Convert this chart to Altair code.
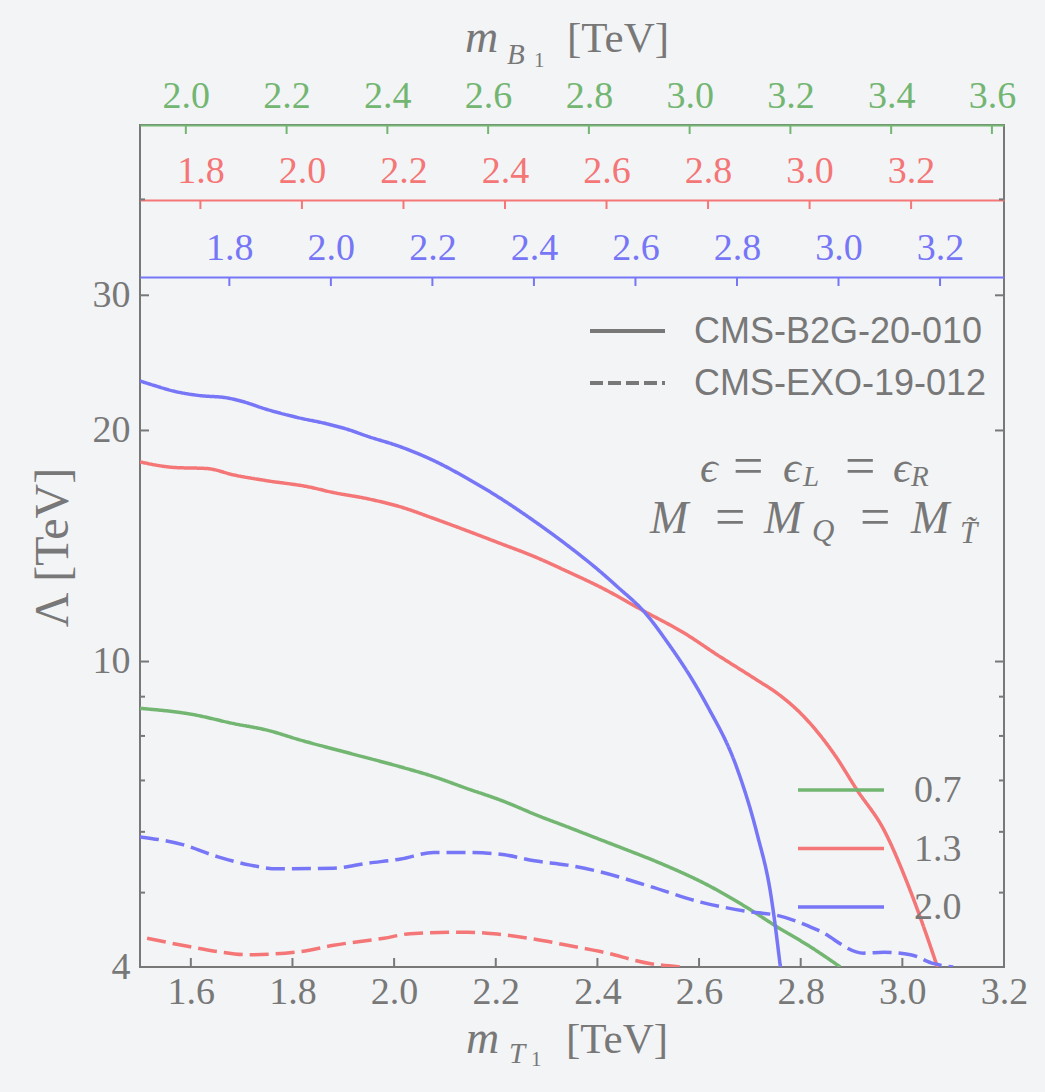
import altair as alt
import pandas as pd

# ---------------- data ----------------
EPS = ["0.7", "1.3", "2.0"]
ANALYSES = ["CMS-B2G-20-010", "CMS-EXO-19-012"]

# CMS-B2G-20-010 (solid)
m_b2g_07 = [1.50, 1.60, 1.685, 1.75, 1.816, 1.914, 2.013, 2.078, 2.144, 2.209, 2.288, 2.341,
            2.406, 2.459, 2.524, 2.623, 2.701, 2.754, 2.819, 2.878]
v_b2g_07 = [8.69, 8.54, 8.30, 8.14, 7.90, 7.59, 7.29, 7.08, 6.83, 6.60, 6.28, 6.09,
            5.86, 5.68, 5.46, 5.09, 4.75, 4.51, 4.25, 4.00]

m_b2g_13 = [1.50, 1.567, 1.632, 1.685, 1.75, 1.829, 1.881, 1.947, 2.013, 2.078, 2.144, 2.209,
            2.276, 2.341, 2.406, 2.495, 2.57, 2.636, 2.714, 2.754, 2.80, 2.865, 2.911, 2.964,
            3.010, 3.042, 3.069]
v_b2g_13 = [18.2, 17.9, 17.84, 17.5, 17.2, 16.9, 16.6, 16.3, 15.9, 15.36, 14.8, 14.25,
            13.7, 13.1, 12.5, 11.6, 10.9, 10.2, 9.46, 9.09, 8.56, 7.59, 6.80, 6.03,
            5.14, 4.51, 4.00]

m_b2g_20 = [1.50, 1.527, 1.567, 1.619, 1.668, 1.698, 1.75, 1.809, 1.868, 1.908, 1.947, 2.013,
            2.078, 2.144, 2.209, 2.275, 2.341, 2.406, 2.439, 2.495, 2.537, 2.59, 2.616, 2.675,
            2.714, 2.741, 2.760]
v_b2g_20 = [23.2, 22.9, 22.5, 22.2, 22.07, 21.85, 21.3, 20.8, 20.4, 20.07, 19.66, 19.04,
            18.27, 17.32, 16.32, 15.25, 14.17, 13.09, 12.52, 11.55, 10.61, 9.39, 8.76, 7.25,
            5.97, 4.98, 4.00]

# CMS-EXO-19-012 (dashed)
m_exo_13 = [1.514, 1.599, 1.652, 1.711, 1.816, 1.881, 1.98, 2.032, 2.144, 2.196, 2.275, 2.341,
            2.406, 2.505, 2.563]
v_exo_13 = [4.36, 4.25, 4.19, 4.15, 4.19, 4.27, 4.36, 4.42, 4.44, 4.42, 4.35, 4.27,
            4.19, 4.04, 4.00]

m_exo_20 = [1.50, 1.586, 1.652, 1.717, 1.77, 1.881, 1.947, 2.013, 2.078, 2.144, 2.209, 2.276,
            2.341, 2.406, 2.505, 2.603, 2.701, 2.754, 2.833, 2.924, 2.964, 3.016, 3.062, 3.10]
v_exo_20 = [5.91, 5.77, 5.57, 5.43, 5.37, 5.38, 5.46, 5.53, 5.64, 5.64, 5.61, 5.50,
            5.43, 5.32, 5.09, 4.86, 4.72, 4.67, 4.47, 4.17, 4.18, 4.15, 4.04, 4.00]

# axis ticks
mT_ticks = [1.6, 1.8, 2.0, 2.2, 2.4, 2.6, 2.8, 3.0, 3.2]
mT_domain = [1.5, 3.2]
lam_labels = [4, 10, 20, 30]
lam_major = [10, 20, 30]
lam_minor = [5, 6, 7, 8, 9, 40]
lam_domain = [4, 50]
green_ticks = [2.0, 2.2, 2.4, 2.6, 2.8, 3.0, 3.2, 3.4, 3.6]
green_domain = [1.909, 3.624]
red_ticks = [1.8, 2.0, 2.2, 2.4, 2.6, 2.8, 3.0, 3.2]
red_domain = [1.681, 3.383]
blue_ticks = [1.8, 2.0, 2.2, 2.4, 2.6, 2.8, 3.0, 3.2]
blue_domain = [1.624, 3.326]

# ---------------- build table ----------------
rows = []
for m, v, e, a in [(m_b2g_07, v_b2g_07, "0.7", ANALYSES[0]),
                   (m_b2g_13, v_b2g_13, "1.3", ANALYSES[0]),
                   (m_b2g_20, v_b2g_20, "2.0", ANALYSES[0]),
                   (m_exo_13, v_exo_13, "1.3", ANALYSES[1]),
                   (m_exo_20, v_exo_20, "2.0", ANALYSES[1])]:
    for mi, vi in zip(m, v):
        rows.append({"m": mi, "v": vi, "eps": e, "analysis": a})
df = pd.DataFrame(rows)

# ---------------- style ----------------
W, H = 864, 842
PADL, PADT = 140, 125
GRAY = "#787878"
BG = "#f3f4f6"
GREEN, RED, BLUE = "#72b672", "#f47676", "#7676f6"
COLORS = [GREEN, RED, BLUE]
SERIF = "Liberation Serif"
SANS = "Liberation Sans"
TICKFS = 38

X_SCALE = alt.Scale(domain=mT_domain, nice=False, zero=False)
Y_SCALE = alt.Scale(type="log", domain=lam_domain, nice=False)
Y_AXIS = alt.Axis(values=lam_labels, format="d", ticks=False, tickSize=0, domain=False, grid=False,
                  labelFont=SERIF, labelFontSize=TICKFS, labelColor=GRAY, labelPadding=10,
                  labelFlush=False, labelOverlap=False,
                  title="Λ [TeV]", titleFont=SERIF, titleFontSize=48, titleFontWeight="normal",
                  titleColor=GRAY, titleAngle=270, titleX=-87, titleY=422,
                  titleAlign="center", titleBaseline="middle")
X_AXIS = alt.Axis(values=mT_ticks, format=".1f", ticks=False, tickSize=0, domain=False, grid=False,
                  labelFont=SERIF, labelFontSize=TICKFS, labelColor=GRAY, labelPadding=6,
                  labelFlush=False, labelOverlap=False, labelBound=False, title=None)

lines = alt.Chart(df).mark_line(strokeWidth=3.5, clip=True, interpolate="monotone").encode(
    x=alt.X("m:Q", scale=X_SCALE, axis=X_AXIS),
    y=alt.Y("v:Q", scale=Y_SCALE, axis=Y_AXIS),
    color=alt.Color("eps:N", scale=alt.Scale(domain=EPS, range=COLORS), legend=None),
    strokeDash=alt.StrokeDash("analysis:N",
                              scale=alt.Scale(domain=ANALYSES, range=[[1, 0], [19, 7]]),
                              legend=None),
)

layers = [lines]

# inward ticks of the frame
layers.append(alt.Chart(pd.DataFrame({"m": mT_ticks})).mark_rule(color=GRAY, strokeWidth=2).encode(
    x=alt.X("m:Q", scale=X_SCALE, axis=None), y=alt.value(H - 9), y2=alt.value(H)))
for vals, ln in [(lam_major, 9), (lam_minor, 5)]:
    d = pd.DataFrame({"v": vals})
    layers.append(alt.Chart(d).mark_rule(color=GRAY, strokeWidth=2).encode(
        y=alt.Y("v:Q", scale=Y_SCALE, axis=Y_AXIS), x=alt.value(0), x2=alt.value(ln)))
    layers.append(alt.Chart(d).mark_rule(color=GRAY, strokeWidth=2).encode(
        y=alt.Y("v:Q", scale=Y_SCALE, axis=Y_AXIS), x=alt.value(W - ln), x2=alt.value(W)))


def top_axis(vals, dom, color, off):
    axis = alt.Axis(orient="top", offset=-off, values=vals, format=".1f", ticks=False, tickSize=0,
                    domain=True, domainColor=color, domainWidth=2, grid=False,
                    labelColor=color, labelFont=SERIF, labelFontSize=TICKFS, labelPadding=10,
                    labelFlush=False, labelOverlap=False, labelBound=False, title=None)
    return alt.Chart(pd.DataFrame({"b": vals})).mark_rule(color=color, strokeWidth=2).encode(
        x=alt.X("b:Q", scale=alt.Scale(domain=dom, nice=False, zero=False), axis=axis),
        y=alt.value(off), y2=alt.value(off + 9))


layers.append(top_axis(green_ticks, green_domain, GREEN, 0))
layers.append(top_axis(red_ticks, red_domain, RED, 75))
layers.append(top_axis(blue_ticks, blue_domain, BLUE, 152))


def txt(t, x, y, size, italic=False, color=GRAY, font=SERIF, baseline="alphabetic"):
    return alt.Chart(pd.DataFrame({"t": [t]})).mark_text(
        align="left", baseline=baseline, font=font, fontSize=size,
        fontStyle="italic" if italic else "normal", color=color).encode(
        x=alt.value(x - PADL), y=alt.value(y - PADT), text="t:N")


def legend_line(x0, x1, y, color, width, dash=None):
    kw = {"color": color, "strokeWidth": width}
    if dash:
        kw["strokeDash"] = dash
    return alt.Chart(pd.DataFrame({"k": [0]})).mark_rule(**kw).encode(
        x=alt.value(x0 - PADL), x2=alt.value(x1 - PADL), y=alt.value(y - PADT))


# legend: analyses (line style)
for i, (lab, dash) in enumerate(zip(ANALYSES, [None, [13, 5]])):
    yy = 331 + 52 * i
    layers.append(legend_line(590, 665, yy, GRAY, 4, dash))
    layers.append(txt(lab, 694, yy + 1, 36, font=SANS, baseline="middle"))

# legend: epsilon (colour)
for i, (lab, col) in enumerate(zip(EPS, COLORS)):
    yy = 790 + 58.5 * i
    layers.append(legend_line(798, 884, yy, col, 3.5))
    layers.append(txt(lab, 914, yy + 1, TICKFS, baseline="middle"))

segments = [
    # bottom title  m_{T_1} [TeV]
    ("m", 466, 1053, 46, True), ("T", 509, 1063, 29, True), ("1", 531, 1066, 21, False),
    ("[TeV]", 566, 1053, 43, False),
    # top title  m_{B_1} [TeV]
    ("m", 465, 52, 46, True), ("B", 507, 64, 29, True), ("1", 534, 67, 21, False),
    ("[TeV]", 567, 52, 43, False),
    # eps = eps_L = eps_R
    ("ϵ", 700, 482, 44, True), ("=", 733, 484, 54, False), ("ϵ", 783, 482, 44, True),
    ("L", 803, 486, 29, True), ("=", 845, 484, 54, False), ("ϵ", 893, 482, 44, True),
    ("R", 911, 486, 29, True),
    # M = M_Q = M_T~
    ("M", 650, 533, 46, True), ("=", 715, 535, 54, False), ("M", 764, 533, 46, True),
    ("Q", 812, 541, 31, True), ("=", 860, 535, 54, False), ("M", 911, 533, 46, True),
    ("T\u0303", 960, 543, 31, True),
]
for t, x, y, s, it in segments:
    layers.append(txt(t, x, y, s, it))

chart = alt.layer(*layers).resolve_scale(x="independent").properties(
    width=W, height=H, background=BG,
    autosize=alt.AutoSizeParams(type="none"),
    padding={"left": PADL, "top": PADT, "right": 1045 - PADL - W, "bottom": 1092 - PADT - H},
).configure_view(stroke=GRAY, strokeWidth=2)

chart.save("out.html", embed_options={"renderer": "svg", "actions": False})
